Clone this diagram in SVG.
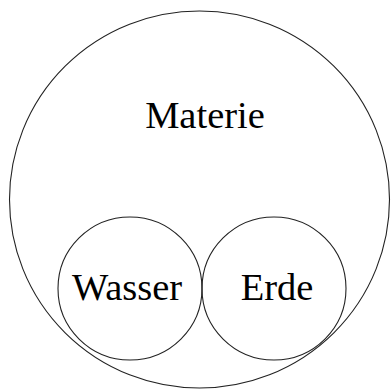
<svg xmlns="http://www.w3.org/2000/svg" width="391" height="389" viewBox="0 0 391 389">
<style>
.c{fill:none;stroke:#222;stroke-width:1.1}
.t{font-family:"Liberation Serif","Times New Roman",serif;font-size:38.5px;fill:#000;text-anchor:middle}
</style>
<rect width="391" height="389" fill="#fff"/>
<g id="materie">
<ellipse class="c" cx="199.5" cy="199.5" rx="190" ry="188.5"/>
<text class="t" x="205" y="128">Materie</text>
</g>
<g id="wasser">
<ellipse class="c" cx="130" cy="288.5" rx="72" ry="71.5"/>
<text class="t" x="127" y="300">Wasser</text>
</g>
<g id="erde">
<ellipse class="c" cx="274" cy="288.5" rx="72" ry="71.5"/>
<text class="t" x="277" y="300">Erde</text>
</g>
<g id="connectors"/>
</svg>
